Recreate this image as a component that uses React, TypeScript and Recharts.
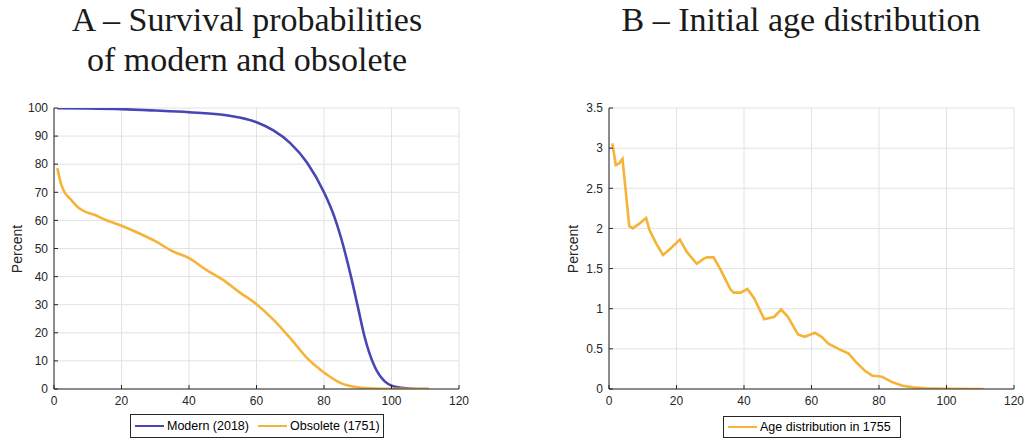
import React from 'react';
import { LineChart, Line, XAxis, YAxis, CartesianGrid } from 'recharts';

// Panel A – survival probabilities (percent) by age
const modernAges = [1, 10, 20, 30, 40, 50, 55, 60, 65, 70, 75, 80, 83, 85, 88, 90, 92, 95, 98, 100, 103, 106, 111];
const modernVals = [99.95, 99.85, 99.6, 99.1, 98.5, 97.6, 96.6, 94.9, 92.0, 87.5, 80.5, 70.0, 61.5, 54.0, 40.0, 29.4, 18.7, 8.0, 2.7, 1.2, 0.4, 0.1, 0.02];

const obsoleteAges = [1, 2, 3, 5, 7, 9, 12, 15, 20, 25, 30, 35, 40, 45, 50, 55, 60, 65, 70, 75, 80, 85, 90, 95, 100, 111];
const obsoleteVals = [78.6, 73.3, 70.3, 67.4, 64.8, 63.2, 62.0, 60.3, 58.1, 55.5, 52.6, 49.1, 46.6, 42.5, 38.9, 34.4, 30.2, 24.7, 18.1, 11.0, 5.9, 2.1, 0.6, 0.15, 0.05, 0];

// Panel B – initial age distribution in 1755 (percent)
const distAges = [1, 2, 3, 4, 6, 7, 9, 11, 12, 14, 16, 18, 21, 23, 26, 28, 29, 31, 33, 36, 37, 39, 41, 43, 46, 49, 51, 53, 56, 58, 61, 63, 65, 68, 71, 73, 76, 78, 80, 81, 84, 87, 90, 94, 100, 111];
const distVals = [3.06, 2.79, 2.81, 2.865, 2.03, 2.0, 2.06, 2.13, 1.98, 1.81, 1.67, 1.74, 1.86, 1.71, 1.56, 1.62, 1.64, 1.64, 1.49, 1.24, 1.2, 1.2, 1.245, 1.13, 0.87, 0.9, 0.99, 0.9, 0.68, 0.65, 0.7, 0.65, 0.565, 0.5, 0.44, 0.345, 0.22, 0.166, 0.158, 0.15, 0.083, 0.04, 0.02, 0.008, 0.002, 0];

const xTicks = [0, 20, 40, 60, 80, 100, 120];
const yTicksA = [0, 10, 20, 30, 40, 50, 60, 70, 80, 90, 100];
const yTicksB = [0, 0.5, 1, 1.5, 2, 2.5, 3, 3.5];

const modernData = modernAges.map((a, i) => ({ age: a, v: modernVals[i] }));
const obsoleteData = obsoleteAges.map((a, i) => ({ age: a, v: obsoleteVals[i] }));
const distData = distAges.map((a, i) => ({ age: a, v: distVals[i] }));

const BLUE = '#4845b5';
const ORANGE = '#f5b438';
const AXIS = '#262626';
const GRID = '#e2e2e2';
const sans = '"Liberation Sans", Arial, sans-serif';
const serif = '"Liberation Serif", "Times New Roman", serif';

const tickStyle = { fill: AXIS, fontSize: 12, fontFamily: sans };

function Panel({ width, yWidth, right, ticksY, domainY, children }: any) {
  return (
    <LineChart width={width} height={441} margin={{ top: 108, left: 0, right, bottom: 0 }} style={{ overflow: 'visible' }}>
      <CartesianGrid stroke={GRID} strokeWidth={1} />
      <XAxis
        type="number"
        dataKey="age"
        domain={[0, 120]}
        ticks={xTicks}
        allowDataOverflow
        height={52}
        tickSize={-4}
        tickMargin={11}
        axisLine={{ stroke: AXIS }}
        tickLine={{ stroke: AXIS }}
        tick={tickStyle}
        interval={0}
      />
      <YAxis
        type="number"
        domain={domainY}
        ticks={ticksY}
        allowDataOverflow
        width={yWidth}
        tickSize={-4}
        tickMargin={10}
        axisLine={{ stroke: AXIS }}
        tickLine={{ stroke: AXIS }}
        tick={tickStyle}
        interval={0}
      />
      {children}
    </LineChart>
  );
}

const legendBox: React.CSSProperties = {
  position: 'absolute',
  border: `1px solid ${AXIS}`,
  display: 'flex',
  alignItems: 'center',
  fontFamily: sans,
  fontSize: 12.5,
  color: '#000',
  boxSizing: 'border-box',
  whiteSpace: 'nowrap',
  background: '#fff',
};
const swatch = (color: string, ml: number): React.CSSProperties => ({
  display: 'inline-block',
  flex: '0 0 auto',
  marginLeft: ml,
  width: 29,
  height: 2.5,
  background: color,
});

export default function App() {
  return (
    <div style={{ position: 'absolute', left: 0, top: 0, width: 1026, height: 441, background: '#fff', overflow: 'hidden' }}>
      {/* Titles */}
      <div style={{ position: 'absolute', left: 47, top: 0, width: 400, textAlign: 'center', fontFamily: serif, fontSize: 34, lineHeight: '40px', color: '#1a1a1a' }}>
        A – Survival probabilities
        <br />
        of modern and obsolete
      </div>
      <div style={{ position: 'absolute', left: 601, top: 0, width: 400, textAlign: 'center', fontFamily: serif, fontSize: 34, lineHeight: '40px', color: '#1a1a1a' }}>
        B – Initial age distribution
      </div>

      {/* Panel A: plot area x 54..459 */}
      <div style={{ position: 'absolute', left: 0, top: 0 }}>
        <Panel width={470} yWidth={54} right={11} ticksY={yTicksA} domainY={[0, 100]}>
          <Line data={modernData} dataKey="v" type="monotone" stroke={BLUE} strokeWidth={2.6} dot={false} isAnimationActive={false} />
          <Line data={obsoleteData} dataKey="v" type="monotone" stroke={ORANGE} strokeWidth={2.6} dot={false} isAnimationActive={false} />
        </Panel>
      </div>
      {/* Panel B: plot area x 609..1014 */}
      <div style={{ position: 'absolute', left: 560, top: 0 }}>
        <Panel width={466} yWidth={49} right={12} ticksY={yTicksB} domainY={[0, 3.5]}>
          <Line data={distData} dataKey="v" type="linear" stroke={ORANGE} strokeWidth={2.6} dot={false} isAnimationActive={false} />
        </Panel>
      </div>

      {/* Y labels */}
      <div style={{ position: 'absolute', left: 17, top: 249, transform: 'translate(-50%, -50%) rotate(-90deg)', fontFamily: sans, fontSize: 14, color: AXIS, whiteSpace: 'nowrap' }}>Percent</div>
      <div style={{ position: 'absolute', left: 573, top: 249, transform: 'translate(-50%, -50%) rotate(-90deg)', fontFamily: sans, fontSize: 14, color: AXIS, whiteSpace: 'nowrap' }}>Percent</div>

      {/* Legends */}
      <div style={{ ...legendBox, left: 130, top: 414, width: 254, height: 24 }}>
        <span style={swatch(BLUE, 4)} />
        <span style={{ marginLeft: 3 }}>Modern (2018)</span>
        <span style={swatch(ORANGE, 9)} />
        <span style={{ marginLeft: 3 }}>Obsolete (1751)</span>
      </div>
      <div style={{ ...legendBox, left: 723, top: 416, width: 178, height: 22 }}>
        <span style={swatch(ORANGE, 4)} />
        <span style={{ marginLeft: 3 }}>Age distribution in 1755</span>
      </div>
    </div>
  );
}
